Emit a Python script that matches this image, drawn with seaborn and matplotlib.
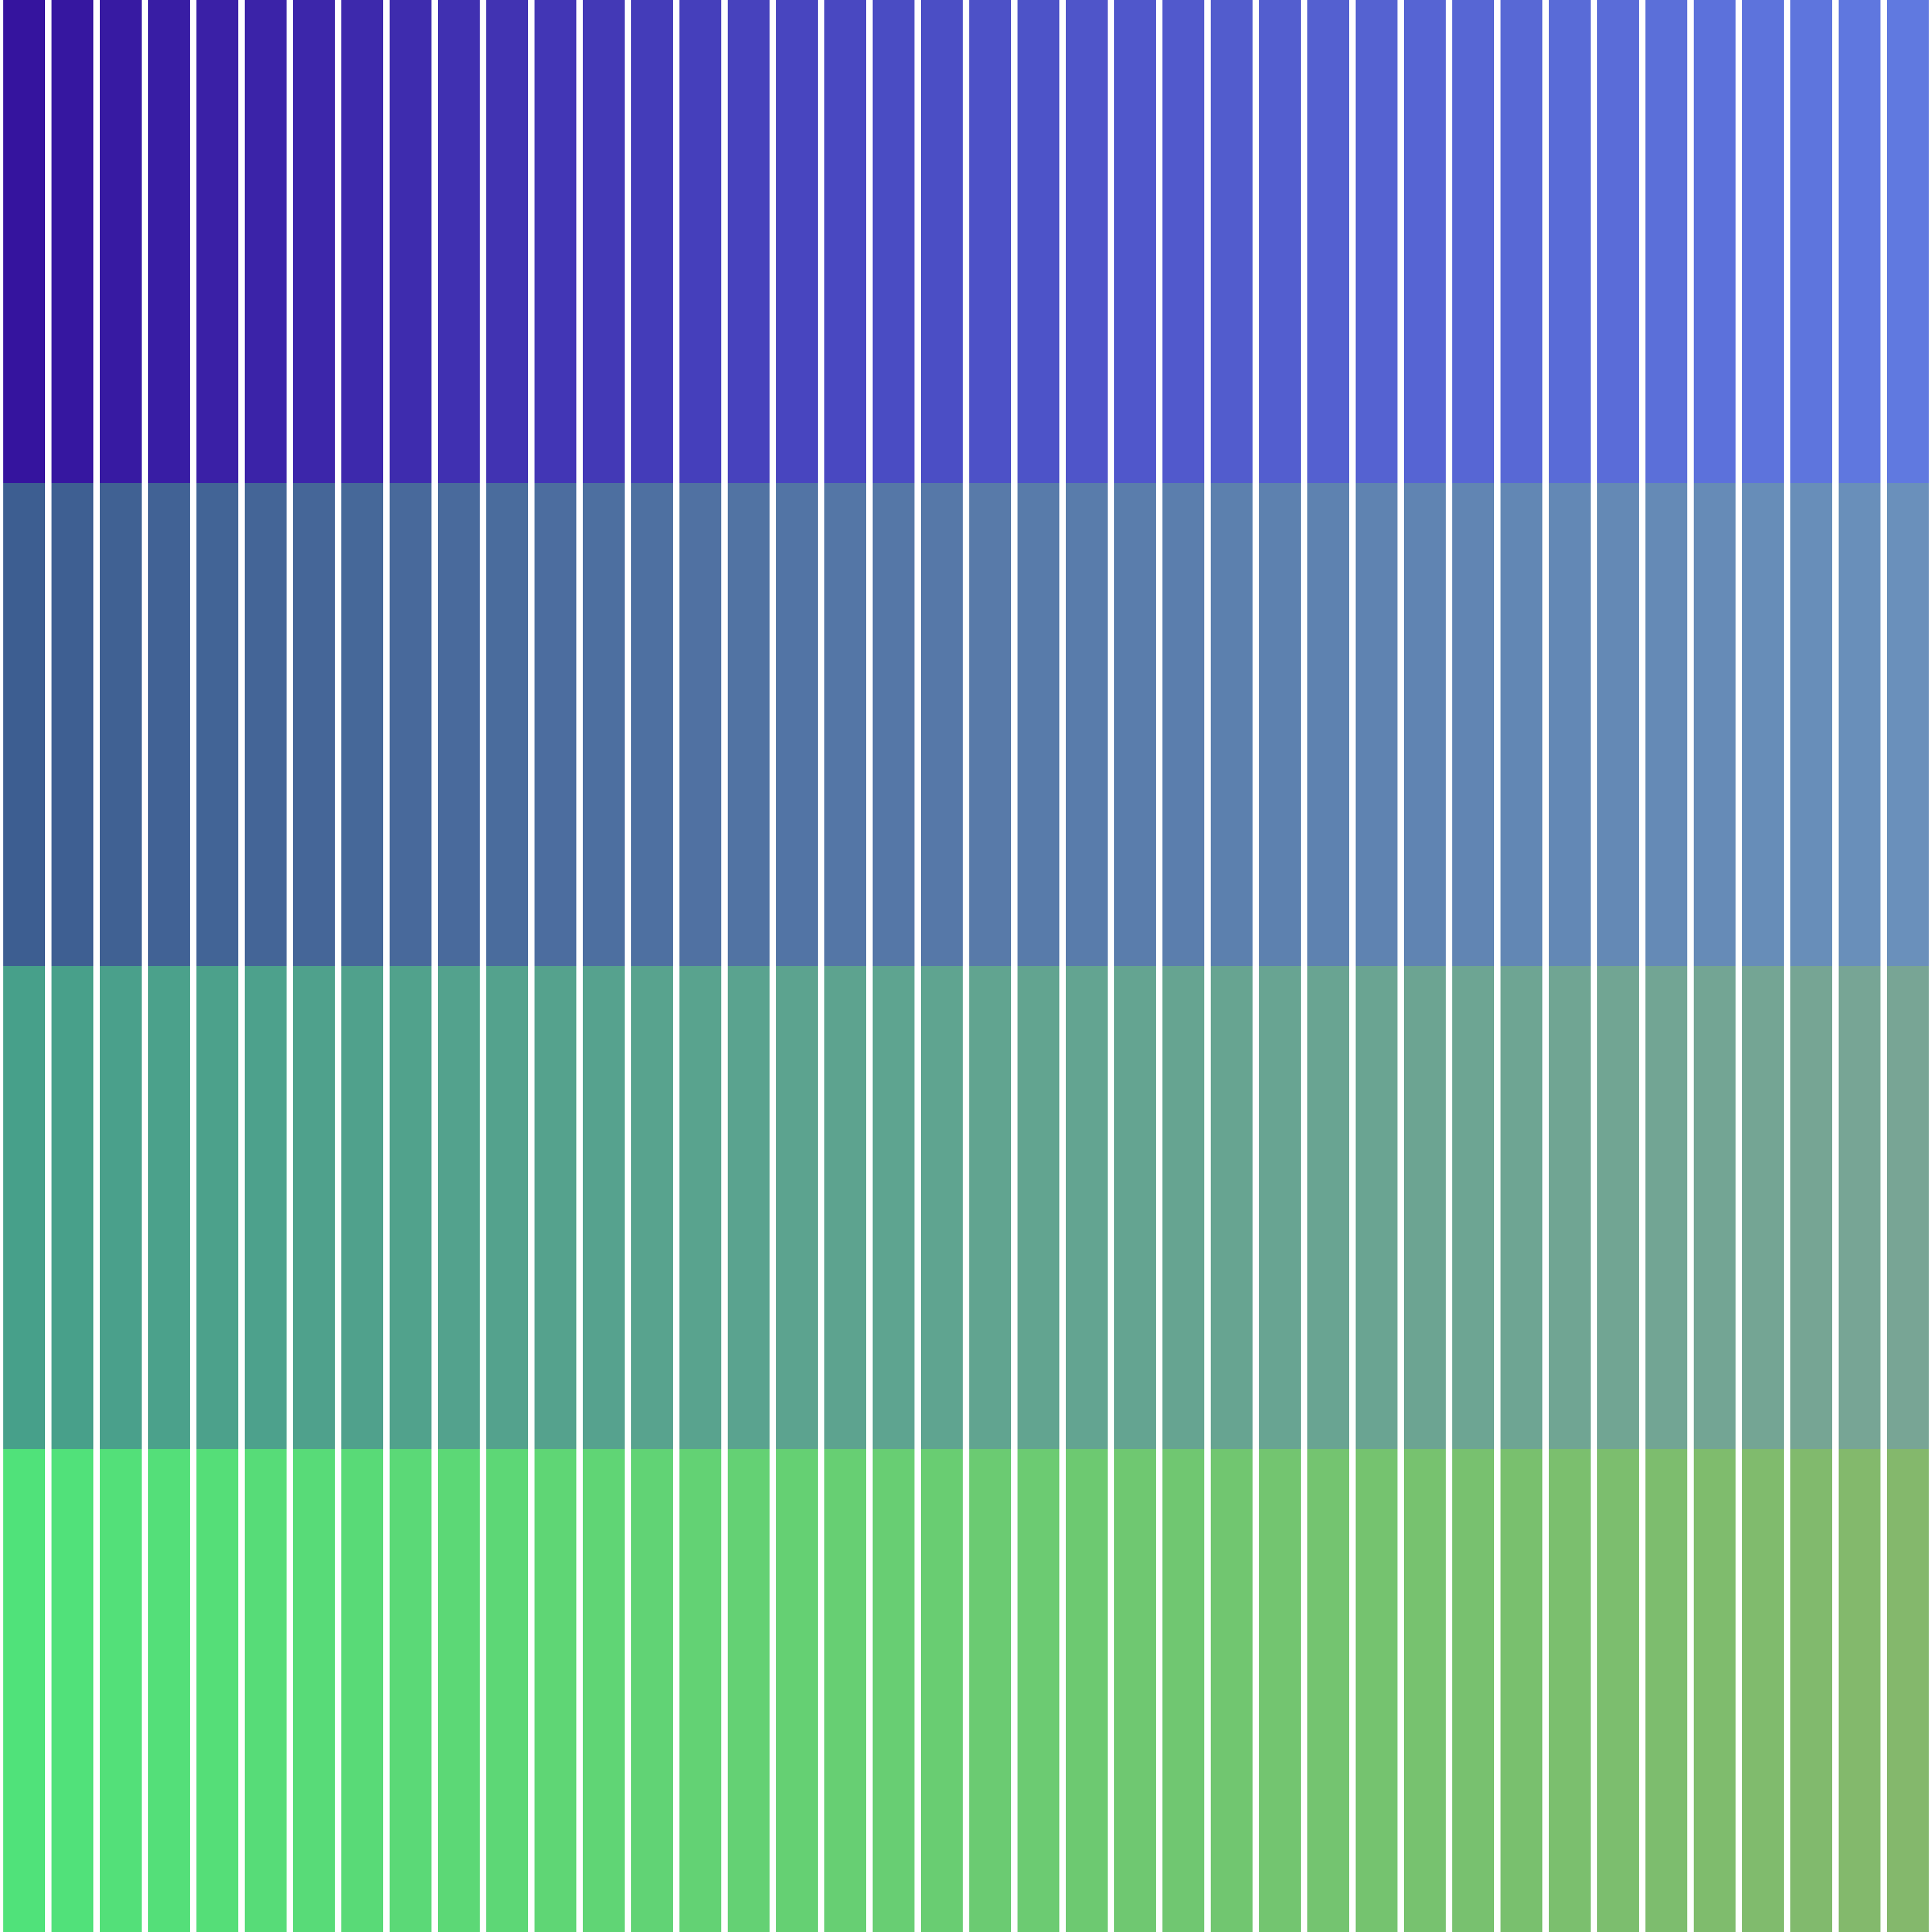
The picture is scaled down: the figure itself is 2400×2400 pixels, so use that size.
import matplotlib
matplotlib.use("Agg")
import matplotlib.pyplot as plt
import seaborn as sns
import pandas as pd
import numpy as np

# ---- data ----
categories = [f"c{i:02d}" for i in range(40)]
row1_values = [1] * 40   # top band
row2_values = [1] * 40
row3_values = [1] * 40
row4_values = [1] * 40   # bottom band

# ---- style: colour ramps of each band (left, middle, right) ----
row1_ramp = ["#35149e", "#4c50c6", "#6079e0"]
row2_ramp = ["#3d5e91", "#5779a9", "#6a90bb"]
row3_ramp = ["#47a08a", "#60a490", "#78a595"]
row4_ramp = ["#50e27a", "#6acc72", "#84b86c"]

sns.set_theme(style="white")

df = pd.DataFrame({
    "cat": categories,
    "r1": row1_values, "r2": row2_values, "r3": row3_values, "r4": row4_values,
})
# cumulative tops for stacking (bottom band first)
df["t4"] = df["r4"]
df["t3"] = df["t4"] + df["r3"]
df["t2"] = df["t3"] + df["r2"]
df["t1"] = df["t2"] + df["r1"]

fig = plt.figure(figsize=(8, 8), dpi=300)
ax = fig.add_axes([0, 0, 1, 1])

layers = [("t1", row1_ramp), ("t2", row2_ramp), ("t3", row3_ramp), ("t4", row4_ramp)]
for col, ramp in layers:
    pal = sns.blend_palette(ramp, n_colors=len(categories))
    sns.barplot(data=df, x="cat", y=col, hue="cat", palette=pal, legend=False,
                width=0.867, dodge=False, linewidth=0, saturation=1, ax=ax)

ax.set_xlim(-0.5, len(categories) - 0.5)
ax.set_ylim(0, df["t1"].max())
ax.set_axis_off()
fig.savefig("out.png", dpi=300, facecolor="white")
